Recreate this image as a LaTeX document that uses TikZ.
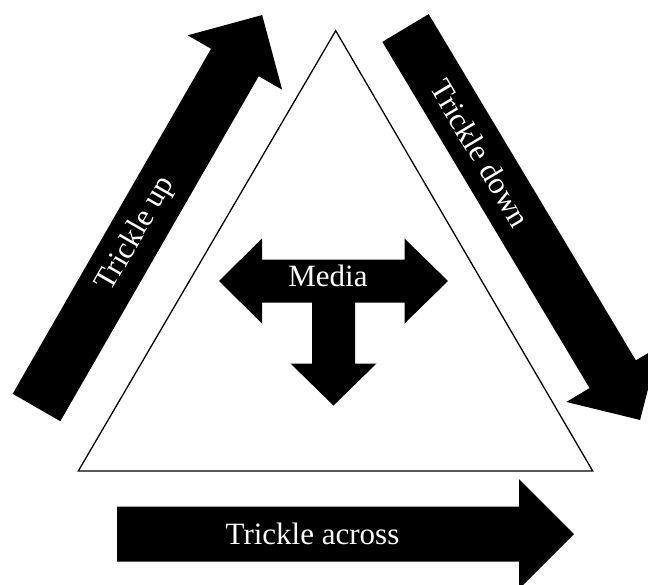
\documentclass[tikz,border=0pt]{standalone}
\usepackage{fontspec}
\setmainfont{Liberation Serif}
\begin{document}
\begin{tikzpicture}[x=1pt,y=-1pt,
  blockarrow/.style={fill=black,draw=none},
  arrowtext/.style={text=white,inner sep=0pt,font=\fontsize{31}{37}\selectfont},
  outline/.style={draw=black,line width=1.3pt,line join=miter}]
\clip (0,0) rectangle (648,584);
\fill[white] (0,0) rectangle (648,584);

% central triangle
\coordinate (apex) at (335.7,30.7);
\coordinate (right) at (592.7,471);
\coordinate (left) at (78.3,471);
\draw[outline] (apex) -- (right) -- (left) -- cycle;

% trickle up (left side, pointing to the top)
\begin{scope}[shift={(36.5,407.5)},rotate=60.1]
  \fill[blockarrow] (0,-27.5) -- (398,-27.5) -- (398,-54.5) -- (452.7,0)
    -- (398,54.5) -- (398,27.5) -- (0,27.5) -- cycle;
  \node[arrowtext,rotate=60.1] (up) at (200,0) {Trickle up};
\end{scope}

% trickle down (right side, pointing to the bottom)
\begin{scope}[shift={(405.5,28)},rotate=-59.1]
  \fill[blockarrow] (0,-27) -- (403.5,-27) -- (403.5,-54) -- (456.8,0)
    -- (403.5,54) -- (403.5,27) -- (0,27) -- cycle;
  \node[arrowtext,rotate=-59.1] (down) at (146,0) {Trickle down};
\end{scope}

% trickle across (bottom, pointing right)
\begin{scope}[shift={(117,534.2)}]
  \fill[blockarrow] (0,-27.5) -- (402,-27.5) -- (402,-55) -- (457,0)
    -- (402,55) -- (402,27.5) -- (0,27.5) -- cycle;
  \node[arrowtext] (across) at (195.5,0) {Trickle across};
\end{scope}

% media: double arrow with a downward stem
\fill[blockarrow] (219,281) -- (262,238.5) -- (262,259.5) -- (404.5,259.5)
  -- (404.5,238.5) -- (448,281) -- (404.5,323.5) -- (404.5,302.5)
  -- (355,302.5) -- (355,363.5) -- (376.5,363.5) -- (333.5,405.5)
  -- (290.5,363.5) -- (312,363.5) -- (312,302.5) -- (262,302.5)
  -- (262,323.5) -- cycle;
\node[arrowtext,anchor=base] (media) at (328,286.7) {Media};
\end{tikzpicture}
\end{document}
